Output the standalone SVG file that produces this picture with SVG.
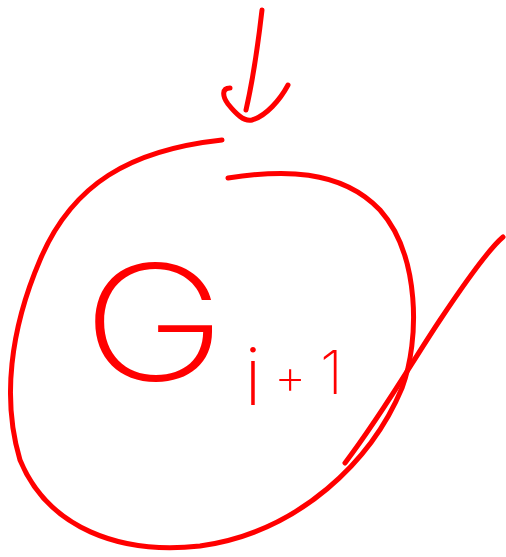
<svg xmlns="http://www.w3.org/2000/svg" width="506" height="557" viewBox="0 0 506 557">
<style>
.s{fill:none;stroke:#ff0000;stroke-width:5;stroke-linecap:round;stroke-linejoin:round}
.t{fill:#ff0000;font-family:Inter,"DejaVu Sans","Liberation Sans",sans-serif;font-weight:200}
</style>
<rect width="506" height="557" fill="#ffffff"/>
<g id="circle">
<path class="s" d="M228 178 C280 170 340 168 380 210 C420 255 420 340 402 388 C372 460 300 532 200 546 C120 555 48 528 20 460 C2 400 10 330 40 260 C72 184 130 150 222 140"/>
</g>
<g id="connectors">
<path class="s" d="M262 10 C258 45 254 75 246 110"/>
<path class="s" d="M230 88 C222 88 222 96 228 104 C236 114 244 122 252 120 C266 116 280 100 288 85"/>
<path class="s" d="M503 237 C490 248 470 275 440 320 C410 365 385 410 345 463"/>
</g>
<g id="label">
<text class="t" transform="translate(82 380) scale(1.22 1)" font-size="160">G</text>
<text class="t" x="244" y="405" font-size="80">i<tspan font-size="50" x="274" y="394">+</tspan><tspan font-size="60" x="320" y="394">1</tspan></text>
</g>
</svg>
